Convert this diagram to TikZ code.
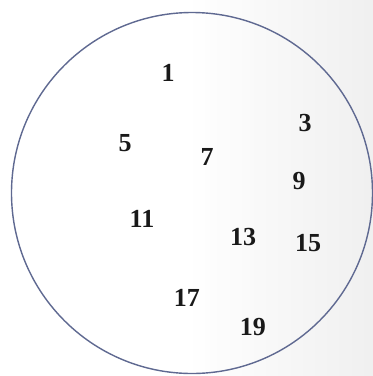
\documentclass[tikz,border=0pt]{standalone}
\usepackage{fontspec}
\setmainfont{Liberation Serif}
\begin{document}
\begin{tikzpicture}[x=1pt,y=-1pt,
  num/.style={font=\fontsize{26}{26}\selectfont\bfseries, inner sep=0pt, text=black!90}]
\definecolor{ringcol}{RGB}{95,105,145}
\useasboundingbox (0,0) rectangle (373,376);
\shade[left color=white, right color=black!6, middle color=white] (0,0) rectangle (373,376);
\node[circle, draw=ringcol, line width=1.4pt, minimum size=361pt, inner sep=0pt] (ring) at (192,193) {};
\node[num] (n1) at (168,73) {1};
\node[num] (n3) at (305,123) {3};
\node[num] (n5) at (125,143) {5};
\node[num] (n7) at (207,157) {7};
\node[num] (n9) at (299,181) {9};
\node[num] (n11) at (142,219) {11};
\node[num] (n13) at (243,237) {13};
\node[num] (n15) at (308,243) {15};
\node[num] (n17) at (187,298) {17};
\node[num] (n19) at (253,327) {19};
\end{tikzpicture}
\end{document}
